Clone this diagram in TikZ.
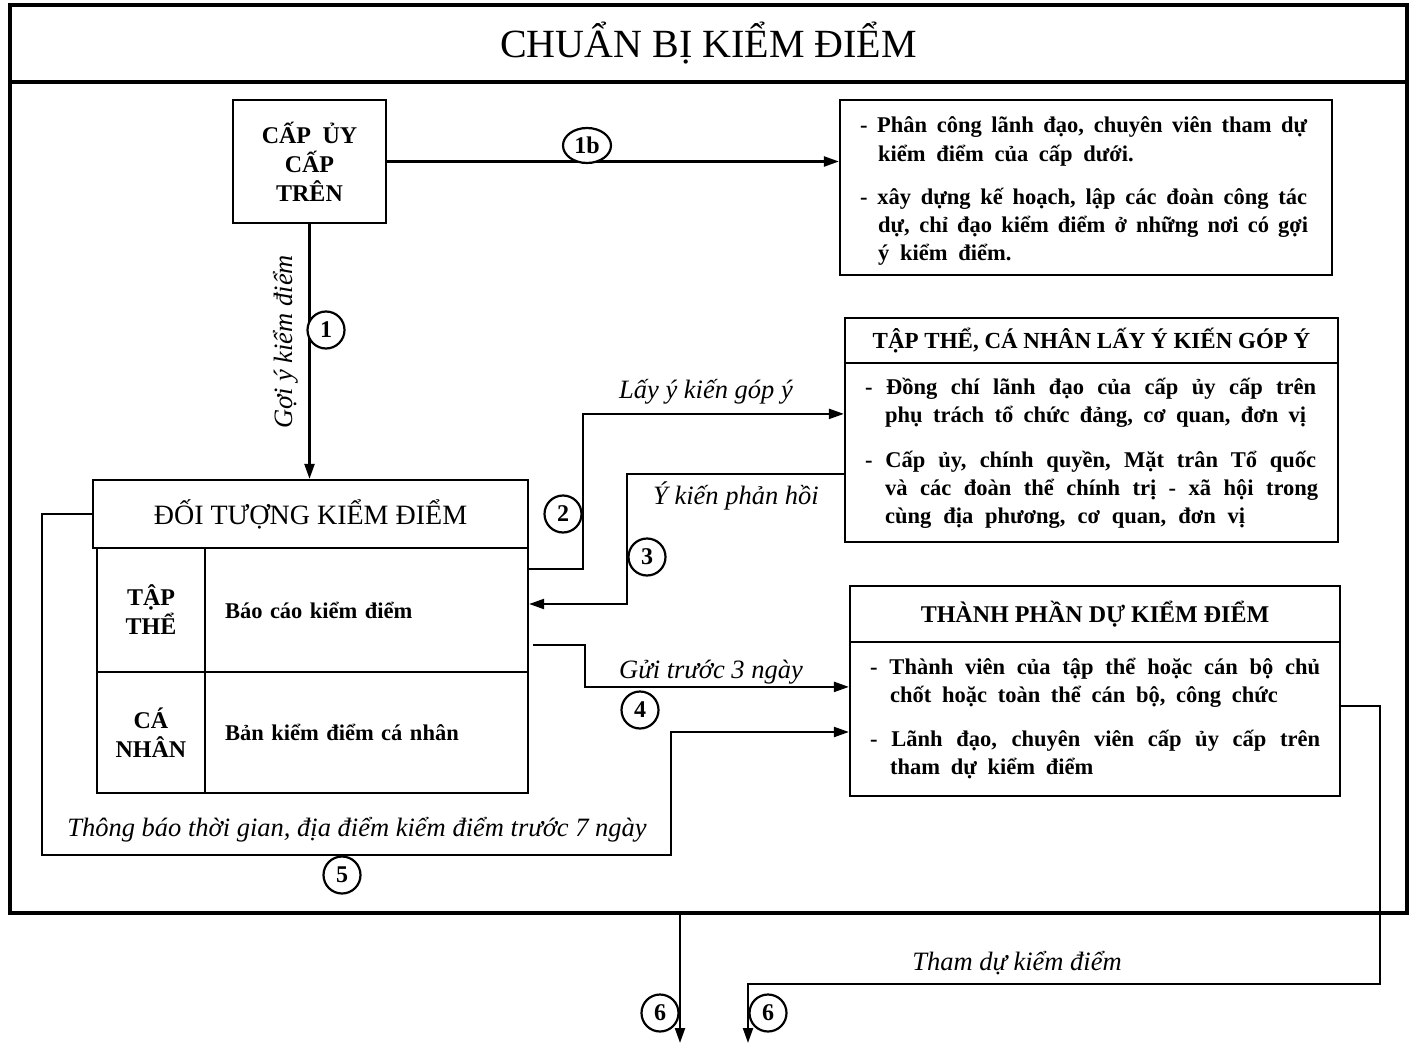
\documentclass[tikz,border=0pt]{standalone}
\usepackage{fontspec}
\setmainfont{Liberation Serif}
\newfontfamily\bodyfont{Liberation Serif}[WordSpace=1.9]
\usetikzlibrary{arrows.meta,shapes.geometric}
\newcommand\jl[2]{\makebox[#1pt][s]{#2}}
\begin{document}
\begin{tikzpicture}[x=1pt,y=-1pt,
 bigframe/.style={draw, line width=3.5pt, inner sep=0pt},
 box/.style={draw, line width=2.2pt, inner sep=0pt},
 conn/.style={line width=2.2pt},
 arr/.style={conn, -{Triangle[length=15pt,width=10pt]}},
 num/.style={circle, draw, line width=2.2pt, fill=white, minimum size=37pt, inner sep=0pt, font=\bfseries\fontsize{24}{24}\selectfont},
 bodyl/.style={anchor=base west, inner sep=0pt, font=\bodyfont\bfseries\fontsize{22.5}{28}\selectfont},
 lab/.style={inner sep=0pt, font=\itshape\fontsize{26.5}{30}\selectfont},
 hdr/.style={box, font=\bfseries\fontsize{23}{26}\selectfont},
 cell/.style={box, align=center, font=\bodyfont\bfseries\fontsize{24}{29}\selectfont},
]
\useasboundingbox (0,0) rectangle (1416,1046);
% frames
\node[bigframe, minimum width=1397pt, minimum height=77pt, font=\fontsize{40}{44}\selectfont] (title) at (708.5,43.5) {\raisebox{-2pt}{CHUẨN BỊ KIỂM ĐIỂM}};
\node[bigframe, minimum width=1397pt, minimum height=831pt] (frame) at (708.5,497.5) {};

% top left box
\node[cell, minimum width=153pt, minimum height=123pt] (cap) at (309.5,161.5) {CẤP ỦY\\CẤP\\TRÊN};

% box 1
\node[box, minimum width=492pt, minimum height=175pt] (pc) at (1086,187.5) {};
\node[bodyl] (pc1) at (860,132) {\jl{447}{- Phân công lãnh đạo, chuyên viên tham dự}};
\node[bodyl] (pc2) at (878,161) {kiểm điểm của cấp dưới.};
\node[bodyl] (pc3) at (860,204) {\jl{447}{- xây dựng kế hoạch, lập các đoàn công tác}};
\node[bodyl] (pc4) at (878,232) {\jl{430}{dự, chỉ đạo kiểm điểm ở những nơi có gợi}};
\node[bodyl] (pc5) at (878,260) {ý kiểm điểm.};

% box 2
\node[hdr, minimum width=493pt, minimum height=45pt] (tth) at (1091.5,340.5) {TẬP THỂ, CÁ NHÂN LẤY Ý KIẾN GÓP Ý};
\node[box, minimum width=493pt, minimum height=179pt] (ttb) at (1091.5,452.5) {};
\node[bodyl] (tt1) at (865,394) {\jl{451}{- Đồng chí lãnh đạo của cấp ủy cấp trên}};
\node[bodyl] (tt2) at (885,422) {\jl{421}{phụ trách tổ chức đảng, cơ quan, đơn vị}};
\node[bodyl] (tt3) at (865,467) {\jl{451}{- Cấp ủy, chính quyền, Mặt trân Tổ quốc}};
\node[bodyl] (tt4) at (885,495) {\jl{433}{và các đoàn thể chính trị - xã hội trong}};
\node[bodyl] (tt5) at (885,523) {\jl{360}{cùng địa phương, cơ quan, đơn vị}};

% box 3
\node[hdr, minimum width=490pt, minimum height=56pt, font=\bfseries\fontsize{24}{26}\selectfont] (tph) at (1095,614) {THÀNH PHẦN DỰ KIỂM ĐIỂM};
\node[box, minimum width=490pt, minimum height=154pt] (tpb) at (1095,719) {};
\node[bodyl] (tp1) at (870,674) {\jl{450}{- Thành viên của tập thể hoặc cán bộ chủ}};
\node[bodyl] (tp2) at (890,702) {chốt hoặc toàn thể cán bộ, công chức};
\node[bodyl] (tp3) at (870,746) {\jl{450}{- Lãnh đạo, chuyên viên cấp ủy cấp trên}};
\node[bodyl] (tp4) at (890,774) {tham dự kiểm điểm};

% doi tuong box
\node[box, minimum width=435pt, minimum height=68pt, font=\fontsize{28}{32}\selectfont] (doi) at (310.5,514) {ĐỐI TƯỢNG KIỂM ĐIỂM};
\node[cell, minimum width=108pt, minimum height=124pt] (tap) at (151,610) {TẬP\\THỂ};
\node[cell, minimum width=323pt, minimum height=124pt, text width=283pt, inner xsep=20pt, align=left, font=\bodyfont\bfseries\fontsize{22.5}{28}\selectfont] (bao) at (366.5,610) {Báo cáo kiểm điểm};
\node[cell, minimum width=108pt, minimum height=121pt] (ca) at (151,732.5) {CÁ\\NHÂN};
\node[cell, minimum width=323pt, minimum height=121pt, text width=283pt, inner xsep=20pt, align=left, font=\bodyfont\bfseries\fontsize{22.5}{28}\selectfont] (ban) at (366.5,732.5) {Bản kiểm điểm cá nhân};

% labels
\node[lab, rotate=90] (lgoi) at (286,342) {Gợi ý kiểm điểm};
\node[lab] (l2) at (706,392) {Lấy ý kiến góp ý};
\node[lab] (l3) at (736,496) {Ý kiến phản hồi};
\node[lab] (l4) at (711,672) {Gửi trước 3 ngày};
\node[lab] (l5) at (357,830) {Thông báo thời gian, địa điểm kiểm điểm trước 7 ngày};
\node[lab] (l6) at (1017,963) {Tham dự kiểm điểm};

% free ends
\coordinate (out6a) at (680,1043);
\coordinate (out6b) at (748,1043);

% connectors
\draw[arr] (cap.south) -- (cap.south |- doi.north);
\draw[arr] (cap.east) -- (cap.east -| pc.west);
\draw[arr] ([yshift=-22pt]bao.north east) -- ++(54,0) |- ([yshift=-52pt]ttb.north west);
\draw[arr] ([yshift=-112pt]ttb.north west) -| ([xshift=98pt,yshift=6pt]bao.east) -- ([yshift=6pt]bao.east);
\draw[arr] ([xshift=4pt,yshift=-35pt]bao.east) -- ++(52,0) |- ([yshift=-46pt]tpb.north west);
\draw[arr] (doi.west) -| (42,855) -| ([xshift=-178pt,yshift=-13pt]tpb.west) -- ([yshift=-13pt]tpb.west);
\draw[arr] ([yshift=13pt]tpb.east) -| (1380,984) -| (out6b);
\draw[arr] (frame.south -| out6a) -- (out6a);

% numbers
\node[num, ellipse, minimum width=48pt, minimum height=35pt] (c1b) at (587,145.5) {1b};
\node[num] (c1) at (326,330) {1};
\node[num] (c2) at (563,514) {2};
\node[num] (c3) at (647,557) {3};
\node[num] (c4) at (640,710) {4};
\node[num] (c5) at (342,875) {5};
\node[num] (c6a) at (660,1013) {6};
\node[num] (c6b) at (768,1013) {6};
\end{tikzpicture}
\end{document}
